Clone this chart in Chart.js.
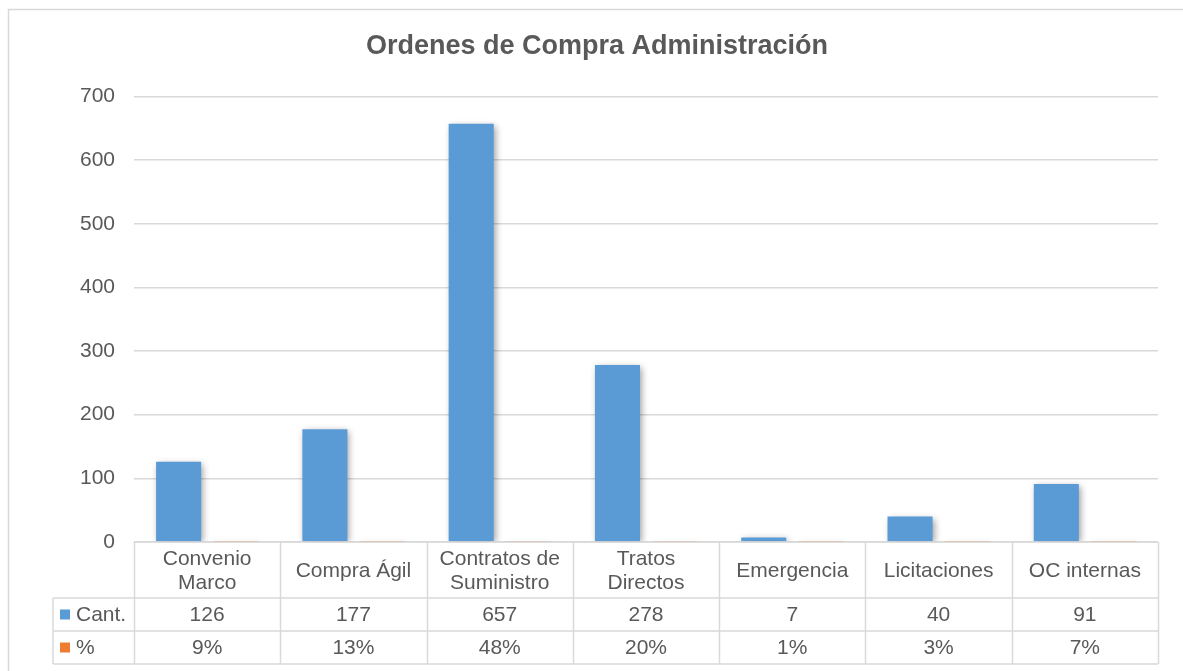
<!DOCTYPE html>
<html>
<head>
<meta charset="utf-8">
<script src="https://cdn.jsdelivr.net/npm/chart.js@4.4.1/dist/chart.umd.min.js"></script>
<style>
  html, body { margin: 0; padding: 0; background: #fff; }
  #wrap { width: 1183px; height: 671px; position: relative; }
</style>
</head>
<body>
<div id="wrap"><canvas id="ocChart" width="1183" height="671"></canvas></div>
<script>
const categories = [["Convenio", "Marco"], "Compra Ágil", ["Contratos de", "Suministro"], ["Tratos", "Directos"], "Emergencia", "Licitaciones", "OC internas"];
const cantidad = [126, 177, 657, 278, 7, 40, 91];
const porcentaje = [9, 13, 48, 20, 1, 3, 7];
const yTicks = [0, 100, 200, 300, 400, 500, 600, 700];
const seriesNames = ["Cant.", "%"];

const gray = "#595959";
const lineColor = "#d9d9d9";
const fontFamily = "'Liberation Sans', Arial, sans-serif";

const frame = {
  id: "frame",
  beforeDraw(chart) {
    const ctx = chart.ctx;
    ctx.save();
    ctx.strokeStyle = lineColor;
    ctx.lineWidth = 1.5;
    ctx.strokeRect(8.5, 9.5, 1220, 700);
    ctx.restore();
  }
};

const barShadow = {
  id: "barShadow",
  beforeDatasetsDraw(chart) {
    const ctx = chart.ctx;
    ctx.save();
    ctx.shadowColor = "rgba(0,0,0,0.4)";
    ctx.shadowBlur = 7;
    ctx.shadowOffsetX = 2;
    ctx.shadowOffsetY = 2;
  },
  afterDatasetsDraw(chart) {
    chart.ctx.restore();
  }
};

// data table under the plot, built from the x scale
const dataTable = {
  id: "dataTable",
  afterDraw(chart) {
    const ctx = chart.ctx;
    const area = chart.chartArea;
    const n = categories.length;
    const cw = area.width / n;
    const top = area.bottom;
    const r1 = top + 56, r2 = top + 89, r3 = top + 122;
    const legLeft = 53;

    ctx.save();
    ctx.strokeStyle = lineColor;
    ctx.lineWidth = 1.5;
    ctx.beginPath();
    ctx.moveTo(area.left, top); ctx.lineTo(area.right, top);
    ctx.moveTo(legLeft, r1); ctx.lineTo(area.right, r1);
    ctx.moveTo(legLeft, r2); ctx.lineTo(area.right, r2);
    ctx.moveTo(legLeft, r3); ctx.lineTo(area.right, r3);
    ctx.moveTo(legLeft, r1); ctx.lineTo(legLeft, r3);
    for (let i = 0; i <= n; i++) {
      const x = Math.round(area.left + i * cw) + 0.5;
      ctx.moveTo(x, top); ctx.lineTo(x, r3);
    }
    ctx.stroke();

    ctx.fillStyle = gray;
    ctx.font = "21px " + fontFamily;
    ctx.textAlign = "center";
    ctx.textBaseline = "middle";
    const xs = chart.scales.x;
    categories.forEach((c, i) => {
      const cx = xs.getPixelForValue(i);
      const lines = Array.isArray(c) ? c : [c];
      const lh = 23.5;
      const mid = (top + r1) / 2 + 1;
      lines.forEach((t, k) => {
        ctx.fillText(t, cx, mid + (k - (lines.length - 1) / 2) * lh);
      });
      ctx.fillText(String(cantidad[i]), cx, (r1 + r2) / 2 + 1);
      ctx.fillText(porcentaje[i] + "%", cx, (r2 + r3) / 2 + 1);
    });

    // legend keys
    const keyColors = chart.data.datasets.map(d => d.backgroundColor);
    const rowsMid = [(r1 + r2) / 2, (r2 + r3) / 2];
    ctx.textAlign = "left";
    seriesNames.forEach((s, k) => {
      ctx.fillStyle = keyColors[k];
      ctx.fillRect(60, rowsMid[k] - 5, 10, 10);
      ctx.fillStyle = gray;
      ctx.fillText(s, 76, rowsMid[k] + 1);
    });
    ctx.restore();
  }
};

new Chart(document.getElementById("ocChart"), {
  type: "bar",
  data: {
    labels: categories,
    datasets: [
      {label: seriesNames[0], data: cantidad, backgroundColor: "#5b9bd5", categoryPercentage: 0.78, barPercentage: 0.79},
      {label: seriesNames[1], data: porcentaje.map(p => p / 100), backgroundColor: "#ed7d31", categoryPercentage: 0.78, barPercentage: 0.79}
    ]
  },
  options: {
    responsive: false,
    animation: false,
    layout: {padding: {left: 36, right: 25, top: 0, bottom: 121}},
    plugins: {
      legend: {display: false},
      tooltip: {enabled: false},
      title: {
        display: true,
        text: "Ordenes de Compra Administración",
        color: gray,
        font: {family: fontFamily, size: 27, weight: "bold"},
        padding: {top: 30, bottom: 34}
      }
    },
    scales: {
      x: {
        grid: {display: false},
        border: {display: false},
        ticks: {display: false}
      },
      y: {
        min: 0,
        max: 700,
        afterBuildTicks(scale) { scale.ticks = yTicks.map(v => ({value: v})); },
        afterFit(scale) { scale.width = 98; },
        grid: {color: lineColor, lineWidth: 1.5, drawTicks: false},
        border: {display: false},
        ticks: {color: gray, padding: 19, font: {family: fontFamily, size: 21}}
      }
    }
  },
  plugins: [frame, barShadow, dataTable]
});
</script>
</body>
</html>
